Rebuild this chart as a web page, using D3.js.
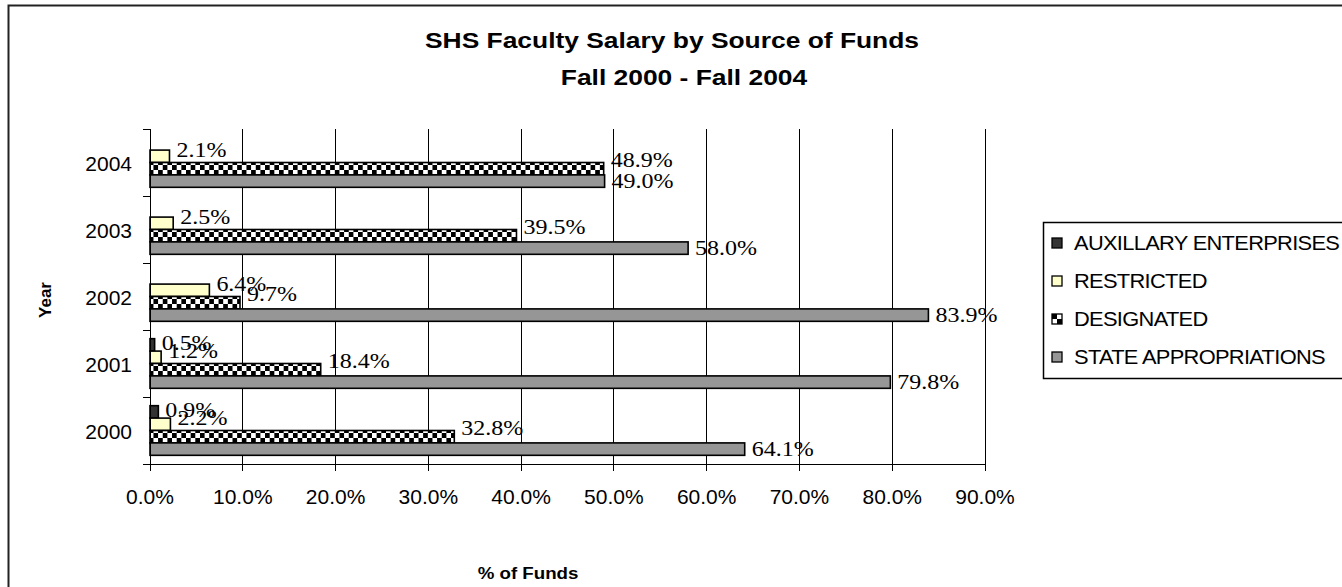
<!DOCTYPE html>
<html>
<head>
<meta charset="utf-8">
<script src="https://cdn.jsdelivr.net/npm/d3@7"></script>
<style>
  html, body { margin: 0; padding: 0; background: #fff; }
  svg { display: block; }
</style>
</head>
<body>
<svg id="chart" width="1342" height="587"></svg>
<script>
// Years, top to bottom as shown on the category axis
const years = ["2004", "2003", "2002", "2001", "2000"];

// Series names, in the order the bars stack inside each year group
const seriesNames = ["AUXILLARY ENTERPRISES", "RESTRICTED", "DESIGNATED", "STATE APPROPRIATIONS"];

// Percent of funds per year (null = no funds from that source)
const auxillary     = [null, null, null, 0.5, 0.9];
const restricted    = [2.1, 2.5, 6.4, 1.2, 2.2];
const designated    = [48.9, 39.5, 9.7, 18.4, 32.8];
const stateApprop   = [49.0, 58.0, 83.9, 79.8, 64.1];

// Value axis ticks
const xTicks = [0, 10, 20, 30, 40, 50, 60, 70, 80, 90];

const titleLines = ["SHS Faculty Salary by Source of Funds", "Fall 2000 - Fall 2004"];
const xTitle = "% of Funds";
const yTitle = "Year";

const seriesValues = [auxillary, restricted, designated, stateApprop];

const svg = d3.select("#chart");

// Pattern for the checkered series
const defs = svg.append("defs");
const pat = defs.append("pattern")
  .attr("id", "checker")
  .attr("patternUnits", "userSpaceOnUse")
  .attr("width", 9.3).attr("height", 10)
  .attr("y", 1);
pat.append("rect").attr("width", 9.3).attr("height", 10).attr("fill", "#fff");
pat.append("rect").attr("x", 0).attr("y", 0).attr("width", 4.65).attr("height", 5).attr("fill", "#000");
pat.append("rect").attr("x", 4.65).attr("y", 5).attr("width", 4.65).attr("height", 5).attr("fill", "#000");

const fills = ["#333333", "#FFFFCC", "url(#checker)", "#969696"];
const legendFills = ["#333333", "#FFFFCC", null, "#969696"];
const labelShift = [-2, -6, -9, 0];

// Outer chart frame (only top and left edges fall inside the view)
svg.append("rect")
  .attr("x", 8.5).attr("y", 5.5)
  .attr("width", 1400).attr("height", 700)
  .attr("fill", "none").attr("stroke", "#222").attr("stroke-width", 2);

// Scales
const x = d3.scaleLinear().domain([0, 90]).range([150, 985]);
const y0 = d3.scaleBand().domain(years).range([129, 464]).paddingInner(0).paddingOuter(0);
const y1 = d3.scaleBand().domain(d3.range(seriesNames.length)).range([0, y0.bandwidth()])
  .paddingInner(0).paddingOuter(0.7);

// Vertical gridlines
svg.append("g")
  .selectAll("line")
  .data(xTicks.filter(d => d > 0))
  .join("line")
  .attr("x1", d => x(d)).attr("x2", d => x(d))
  .attr("y1", 129).attr("y2", 464)
  .attr("stroke", "#000").attr("stroke-width", 1)
  .attr("shape-rendering", "crispEdges");

// Bars
const groups = svg.append("g")
  .selectAll("g")
  .data(years)
  .join("g")
  .attr("transform", d => `translate(0,${y0(d)})`);

groups.each(function(year, yi) {
  const g = d3.select(this);
  seriesValues.forEach((vals, si) => {
    const v = vals[yi];
    if (v == null) return;
    g.append("rect")
      .attr("x", x(0))
      .attr("y", y1(si))
      .attr("width", x(v) - x(0))
      .attr("height", y1.bandwidth())
      .attr("fill", fills[si])
      .attr("stroke", "#000")
      .attr("stroke-width", 1.6);
  });
});

// Helper: text stretched horizontally around its anchor point
function stretchedText(parent, tx, ty, str, opts) {
  const g = parent.append("g").attr("transform", `translate(${tx},${ty}) scale(${opts.sx || 1},1)`);
  const t = g.append("text")
    .attr("x", 0).attr("y", 0)
    .attr("font-family", opts.family || "Arial, 'Liberation Sans', sans-serif")
    .attr("font-size", opts.size)
    .attr("font-weight", opts.weight || "normal")
    .attr("text-anchor", opts.anchor || "start")
    .attr("fill", "#000")
    .text(str);
  if (opts.rotate) g.attr("transform", `translate(${tx},${ty}) rotate(${opts.rotate}) scale(${opts.sx || 1},1)`);
  return t;
}

// Data labels
const labels = svg.append("g");
years.forEach((year, yi) => {
  seriesValues.forEach((vals, si) => {
    const v = vals[yi];
    if (v == null) return;
    const cy = y0(year) + y1(si) + y1.bandwidth() / 2 + labelShift[si];
    stretchedText(labels, x(v) + 7, cy + 6.8, d3.format(".1f")(v) + "%", {
      family: "'Times New Roman', 'Liberation Serif', serif", size: 20, sx: 1.2
    });
  });
});

// Axes lines and ticks
const axes = svg.append("g").attr("shape-rendering", "crispEdges");
axes.append("line").attr("x1", 143).attr("x2", 985).attr("y1", 464).attr("y2", 464)
  .attr("stroke", "#000");
axes.append("line").attr("x1", 150).attr("x2", 150).attr("y1", 129).attr("y2", 471)
  .attr("stroke", "#000");
axes.selectAll(".xt").data(xTicks).join("line")
  .attr("x1", d => x(d)).attr("x2", d => x(d)).attr("y1", 464).attr("y2", 471)
  .attr("stroke", "#000");
const yEdges = years.map(d => y0(d)).concat([464]);
axes.selectAll(".yt").data(yEdges).join("line")
  .attr("x1", 143).attr("x2", 150).attr("y1", d => d).attr("y2", d => d)
  .attr("stroke", "#000");

// Tick labels
xTicks.forEach(t => {
  stretchedText(svg, x(t), 504, d3.format(".1f")(t) + "%", { size: 21, anchor: "middle" });
});
years.forEach(yr => {
  stretchedText(svg, 132, y0(yr) + y0.bandwidth() / 2 + 8, yr, { size: 21, anchor: "end" });
});

// Titles
stretchedText(svg, 672, 48, titleLines[0], { size: 22, weight: "bold", anchor: "middle", sx: 1.2 });
stretchedText(svg, 684, 85, titleLines[1], { size: 22, weight: "bold", anchor: "middle", sx: 1.2 });
stretchedText(svg, 528, 579, xTitle, { size: 17, weight: "bold", anchor: "middle", sx: 1.1 });
stretchedText(svg, 51, 300, yTitle, { size: 17, weight: "bold", anchor: "middle", rotate: -90 });

// Legend
const legend = svg.append("g");
legend.append("rect")
  .attr("x", 1043.5).attr("y", 222.5).attr("width", 400).attr("height", 156)
  .attr("fill", "#fff").attr("stroke", "#000").attr("stroke-width", 1.5);
const legendY = d3.scalePoint().domain(d3.range(seriesNames.length)).range([243, 357]);
seriesNames.forEach((name, i) => {
  const cy = legendY(i);
  if (legendFills[i]) {
    legend.append("rect")
      .attr("x", 1052).attr("y", cy - 5).attr("width", 10).attr("height", 10)
      .attr("fill", legendFills[i]).attr("stroke", "#000").attr("stroke-width", 1.3);
  } else {
    const lg = legend.append("g");
    lg.append("rect").attr("x", 1052).attr("y", cy - 5).attr("width", 10).attr("height", 10)
      .attr("fill", "#fff").attr("stroke", "#000").attr("stroke-width", 1.3);
    lg.append("rect").attr("x", 1052).attr("y", cy - 5).attr("width", 5).attr("height", 5).attr("fill", "#000");
    lg.append("rect").attr("x", 1057).attr("y", cy).attr("width", 5).attr("height", 5).attr("fill", "#000");
  }
  stretchedText(legend, 1074, cy + 7, name, { size: 19.5, sx: 1.12, weight: "normal" })
    .attr("letter-spacing", -0.6);
});
</script>
</body>
</html>
